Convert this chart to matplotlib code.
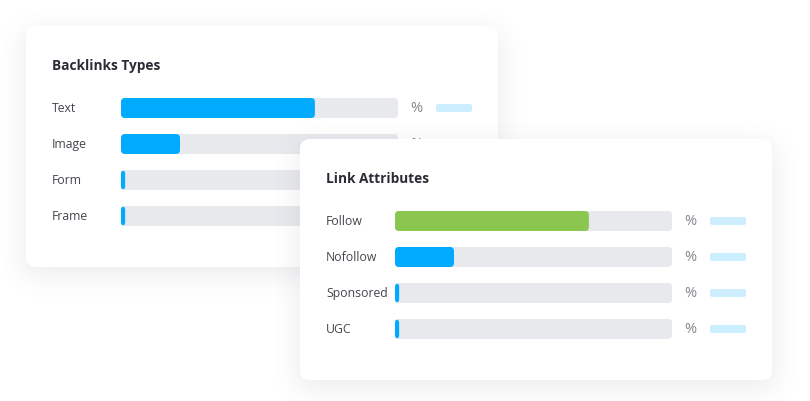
import numpy as np
import matplotlib
matplotlib.use("Agg")
import matplotlib.pyplot as plt
from matplotlib.patches import FancyBboxPatch

# ---- Data ----
backlink_types = ["Text", "Image", "Form", "Frame"]
backlink_shares = [0.70, 0.213, 0.015, 0.015]

link_attributes = ["Follow", "Nofollow", "Sponsored", "UGC"]
link_shares = [0.70, 0.213, 0.015, 0.015]
link_colors = ["#8bc750", "#00aaff", "#00aaff", "#00aaff"]

# ---- Style ----
W, H = 810, 402
BLUE = "#00aaff"
TRACK = "#e8e9ed"
PLACEHOLDER = "#cdeeff"
LABEL = "#45454f"
TITLE = "#2b2b36"
PCT = "#85858f"
plt.rcParams["font.family"] = ["Open Sans", "DejaVu Sans"]


def blur(a, sigma):
    r = int(sigma * 3)
    k = np.exp(-0.5 * (np.arange(-r, r + 1) / sigma) ** 2)
    k /= k.sum()
    a = np.apply_along_axis(lambda m: np.convolve(m, k, mode="same"), 0, a)
    a = np.apply_along_axis(lambda m: np.convolve(m, k, mode="same"), 1, a)
    return a


def draw_shadow(ax, x0, y0, w, h, z):
    mask = np.zeros((H, W))
    mask[int(y0 + 6):int(y0 + h + 8), int(x0 - 2):int(x0 + w + 2)] = 1.0
    mask = blur(mask, 13)
    rgba = np.zeros((H, W, 4))
    rgba[..., :3] = (0.35, 0.37, 0.45)
    rgba[..., 3] = mask * 0.12
    ax.imshow(rgba, extent=(0, W, H, 0), zorder=z, interpolation="bilinear")


def draw_card(ax, x0, y0, title, labels, shares, colors, z):
    w, h = 472, 241
    draw_shadow(ax, x0, y0, w, h, z)
    ax.add_patch(FancyBboxPatch((x0, y0), w, h,
                                boxstyle="round,pad=0,rounding_size=10",
                                fc="white", ec="none", zorder=z + 1))
    ax.text(x0 + 26, y0 + 39, title, fontsize=9.8, fontweight="bold",
            color=TITLE, va="center", ha="left", zorder=z + 2)

    track_x = x0 + 95
    track_w = 277
    bar_h = 20
    for i, (lab, val, col) in enumerate(zip(labels, shares, colors)):
        yc = y0 + 82 + i * 36
        ax.text(x0 + 26, yc, lab, fontsize=8.8, color=LABEL,
                va="center", ha="left", zorder=z + 2)
        ax.add_patch(FancyBboxPatch((track_x, yc - bar_h / 2), track_w, bar_h,
                                    boxstyle="round,pad=0,rounding_size=4",
                                    fc=TRACK, ec="none", zorder=z + 2))
        ax.add_patch(FancyBboxPatch((track_x, yc - bar_h / 2), val * track_w, bar_h,
                                    boxstyle="round,pad=0,rounding_size=4",
                                    fc=col, ec="none", zorder=z + 3))
        ax.text(track_x + track_w + 12, yc, "%", fontsize=10.5, color=PCT,
                va="center", ha="left", zorder=z + 2)
        ax.add_patch(FancyBboxPatch((track_x + track_w + 38, yc - 4), 36, 8,
                                    boxstyle="round,pad=0,rounding_size=2",
                                    fc=PLACEHOLDER, ec="none", zorder=z + 2))


def main():
    fig = plt.figure(figsize=(W / 100, H / 100), dpi=100)
    ax = fig.add_axes([0, 0, 1, 1])
    ax.set_xlim(0, W)
    ax.set_ylim(H, 0)
    ax.axis("off")
    fig.patch.set_facecolor("white")

    draw_card(ax, 26, 27, "Backlinks Types", backlink_types, backlink_shares,
              [BLUE] * len(backlink_types), 1)
    draw_card(ax, 300, 140, "Link Attributes", link_attributes, link_shares,
              link_colors, 10)

    ax.set_xlim(0, W)
    ax.set_ylim(H, 0)
    fig.savefig("out.png", dpi=100, facecolor="white")


if __name__ == "__main__":
    main()
